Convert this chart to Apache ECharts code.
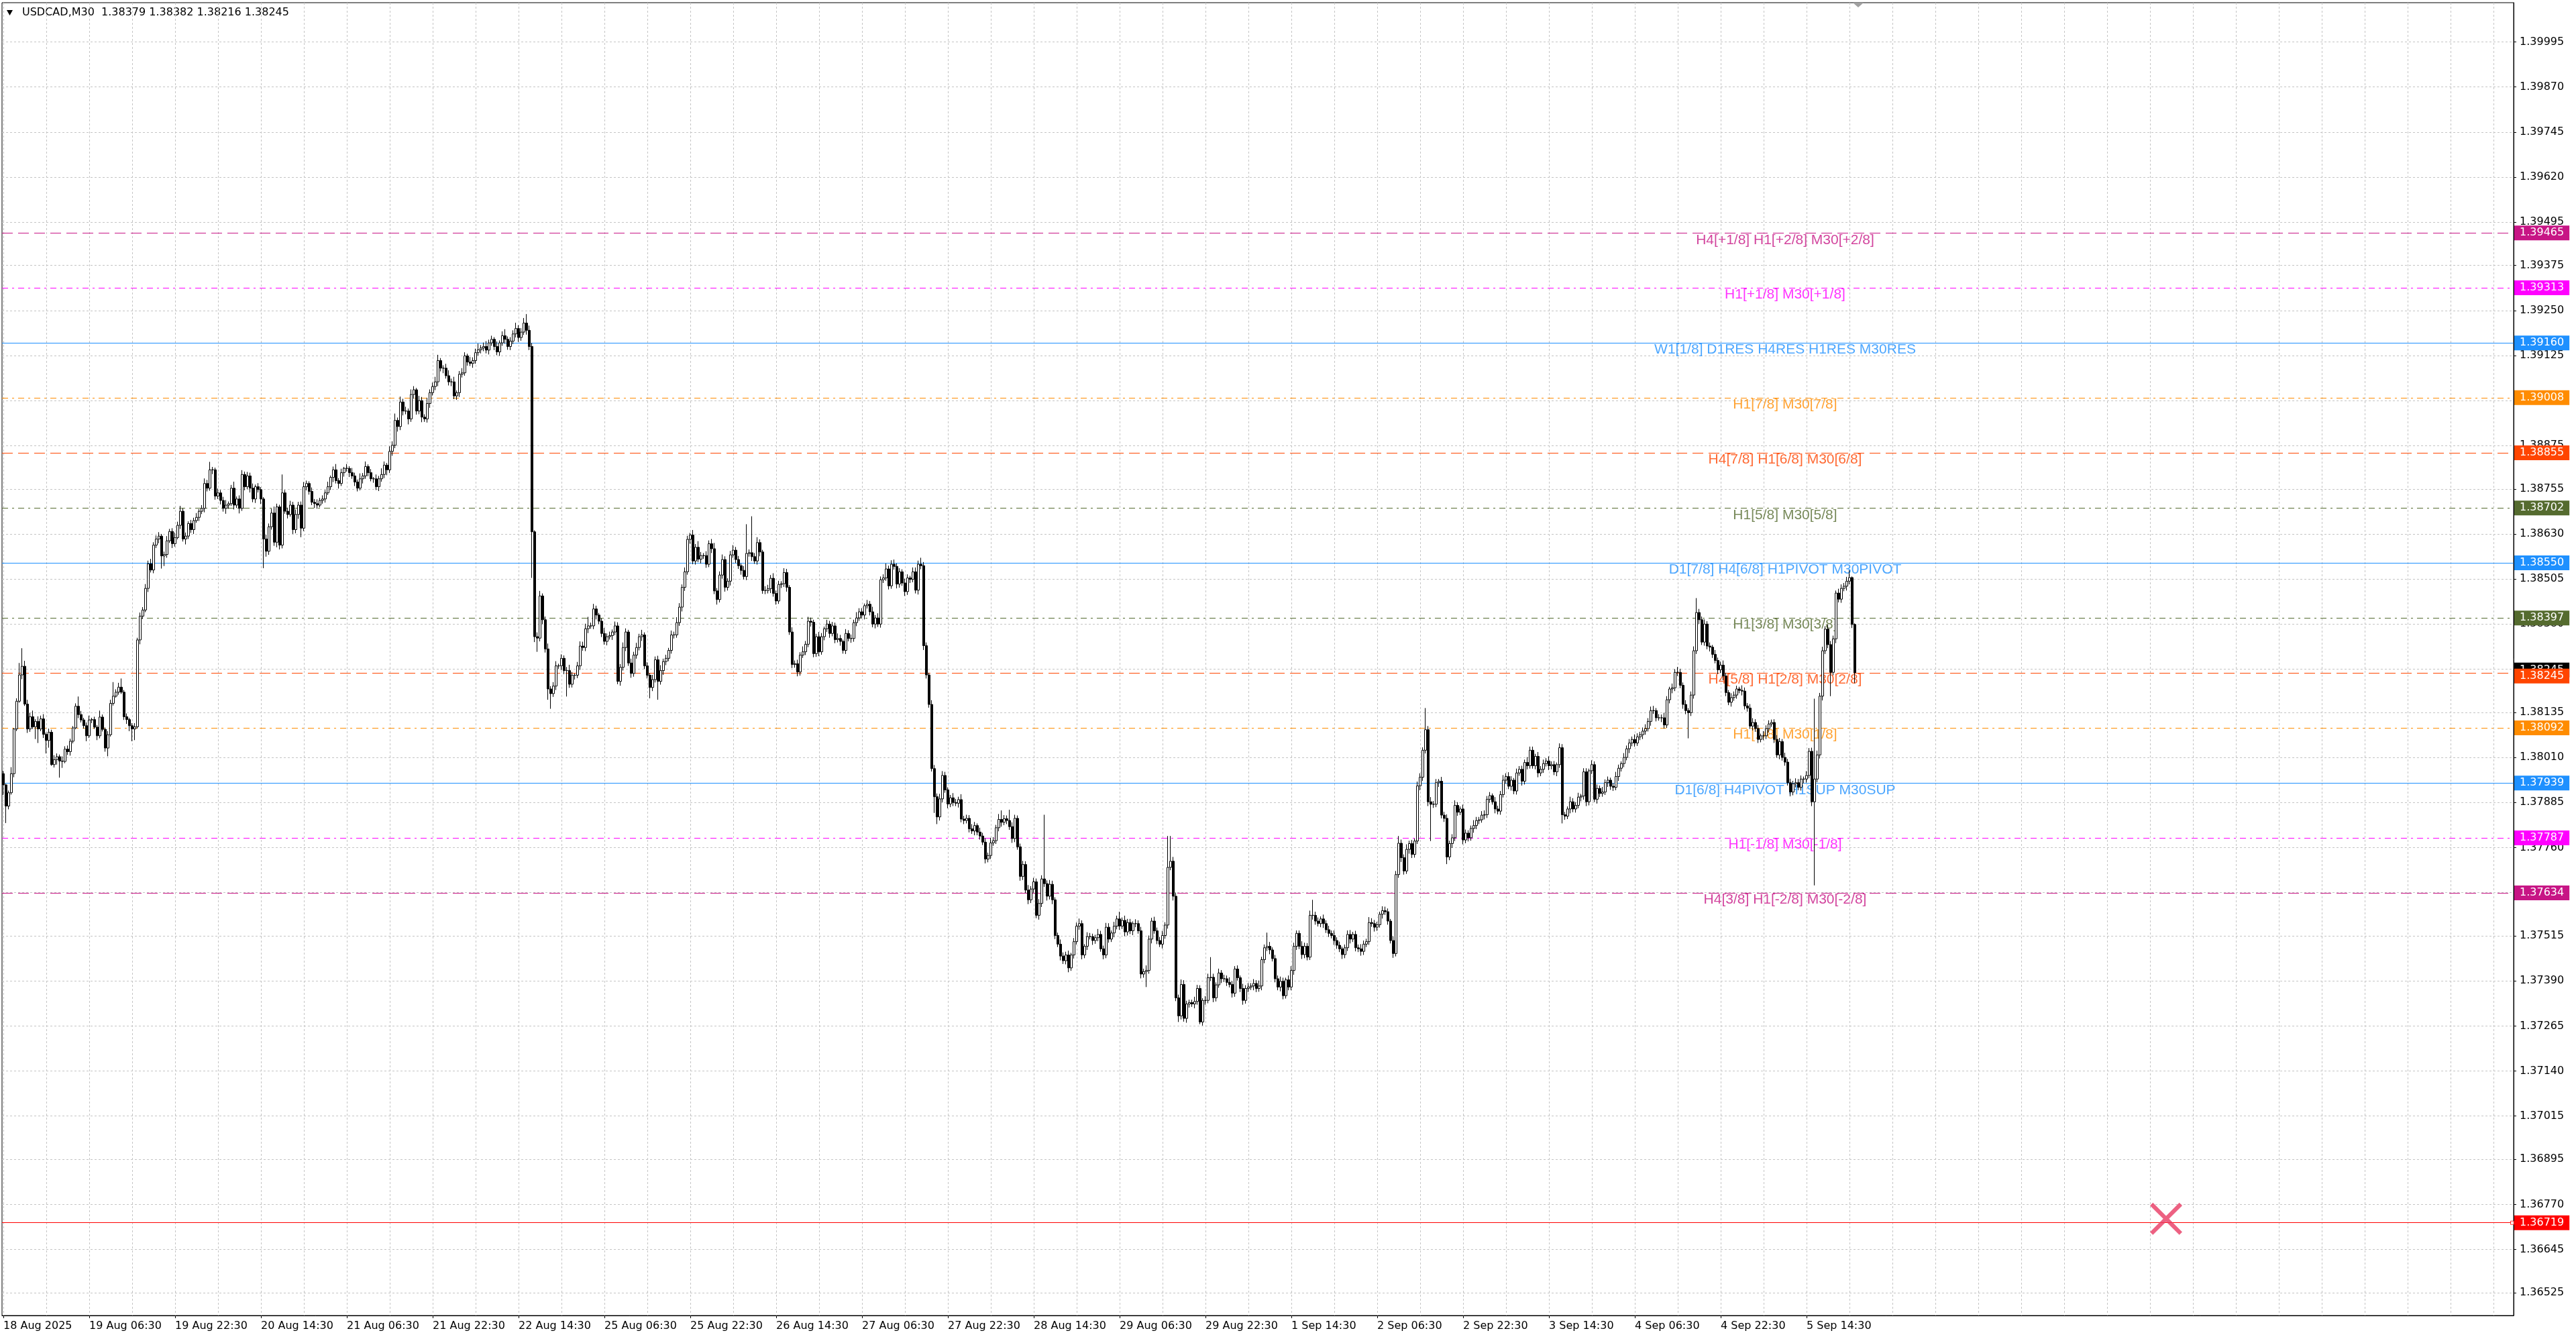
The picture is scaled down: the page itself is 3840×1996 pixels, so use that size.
<!DOCTYPE html>
<html>
<head>
<meta charset="utf-8">
<script src="https://cdn.jsdelivr.net/npm/echarts@6/dist/echarts.min.js"></script>
<style>
html,body{margin:0;padding:0;background:#ffffff;}
#c{width:3840px;height:1996px;}
</style>
</head>
<body>
<div id="c"></div>
<script>
// ---------------- data ----------------
const symbolName = 'USDCAD,M30';
const timeLabels = ['18 Aug 2025','19 Aug 06:30','19 Aug 22:30','20 Aug 14:30','21 Aug 06:30','21 Aug 22:30','22 Aug 14:30','25 Aug 06:30','25 Aug 22:30','26 Aug 14:30','27 Aug 06:30','27 Aug 22:30','28 Aug 14:30','29 Aug 06:30','29 Aug 22:30','1 Sep 14:30','2 Sep 06:30','2 Sep 22:30','3 Sep 14:30','4 Sep 06:30','4 Sep 22:30','5 Sep 14:30'];
const barsPerTimeLabel = 32;
const slotCount = 936;

// prices in points (price x 100000)
const opens = [
137965,137934,137875,137912,137965,138089,138166,138239,138263,138158,
138089,138123,138095,138110,138089,138117,138074,138057,138080,137990,
138004,138012,138000,137999,138033,138026,138055,138092,138152,138129,
138114,138098,138070,138114,138115,138094,138070,138122,138088,138036,
138073,138160,138180,138191,138205,138191,138123,138115,138098,138089,
138095,138336,138402,138419,138479,138547,138530,138599,138616,138624,
138569,138573,138611,138637,138603,138620,138654,138693,138616,138624,
138659,138642,138667,138676,138693,138701,138770,138757,138808,138808,
138735,138744,138723,138701,138710,138714,138757,138710,138727,138701,
138795,138761,138791,138757,138727,138761,138753,138727,138616,138582,
138650,138688,138607,138705,138599,138744,138693,138684,138710,138642,
138684,138710,138646,138761,138770,138748,138718,138714,138710,138723,
138727,138744,138761,138787,138808,138778,138770,138800,138812,138812,
138800,138791,138774,138757,138783,138791,138817,138800,138783,138783,
138761,138783,138795,138821,138808,138859,138876,138945,138928,138996,
138971,138971,138949,139017,139030,138971,139000,138954,138949,138992,
139022,139039,139052,139111,139090,139090,139069,139052,139052,139013,
139022,139073,139077,139124,139107,139103,139111,139133,139141,139146,
139150,139140,139160,139170,139150,139135,139160,139180,139170,139150,
139165,139185,139200,139175,139190,139215,139195,139150,138636,138345,
138341,138458,138392,138311,138200,138187,138208,138264,138264,138285,
138251,138251,138213,138238,138238,138264,138319,138315,138367,138375,
138375,138422,138405,138388,138354,138332,138345,138348,138358,138375,
138221,138260,138315,138358,138272,138243,138294,138315,138345,138350,
138264,138238,138204,138226,138281,138221,138251,138276,138285,138307,
138350,138350,138384,138427,138482,138525,138615,138627,138555,138593,
138560,138570,138570,138546,138603,138589,138472,138448,138516,138559,
138482,138499,138572,138585,138559,138542,138529,138512,138576,138578,
138567,138555,138606,138580,138473,138473,138478,138507,138465,138444,
138490,138492,138523,138482,138358,138268,138270,138247,138294,138303,
138324,138388,138385,138298,138345,138303,138345,138367,138380,138354,
138375,138337,138340,138332,138307,138354,138340,138340,138384,138397,
138414,138405,138431,138435,138414,138380,138397,138380,138503,138508,
138533,138486,138546,138540,138491,138525,138494,138470,138508,138504,
138525,138474,138546,138542,138320,138239,138157,137979,137901,137845,
137895,137960,137920,137881,137898,137885,137883,137893,137839,137835,
137841,137812,137806,137821,137803,137792,137775,137728,137738,137773,
137779,137815,137838,137830,137840,137835,137818,137785,137841,137762,
137680,137713,137642,137615,137645,137665,137572,137605,137673,137660,
137625,137658,137615,137516,137492,137459,137446,137462,137426,137462,
137499,137542,137549,137462,137486,137513,137513,137502,137510,137519,
137479,137462,137539,137506,137523,137542,137562,137542,137558,137526,
137552,137529,137549,137549,137529,137409,137416,137419,137506,137556,
137529,137502,137492,137516,137545,137705,137722,137625,137343,137293,
137380,137286,137326,137330,137326,137333,137369,137276,137336,137336,
137399,137400,137343,137379,137412,137396,137396,137386,137380,137356,
137423,137399,137369,137336,137369,137373,137376,137383,137369,137376,
137449,137482,137486,137476,137452,137396,137373,137389,137349,137393,
137373,137419,137486,137522,137486,137463,137486,137456,137572,137572,
137556,137549,137562,137549,137532,137522,137516,137502,137489,137479,
137463,137482,137519,137506,137519,137482,137479,137472,137492,137499,
137552,137549,137539,137546,137575,137585,137582,137556,137502,137466,
137685,137772,137732,137695,137755,137771,137741,137778,137931,137955,
138030,138087,137887,137880,137880,137940,137944,137850,137841,137734,
137771,137787,137877,137858,137867,137781,137800,137787,137813,137821,
137835,137837,137850,137851,137894,137904,137887,137867,137861,137907,
137947,137957,137930,137947,137917,137967,137977,137944,137996,137987,
138030,137987,138013,137967,137977,137993,138000,137987,137990,137970,
137990,138037,137851,137847,137867,137887,137867,137877,137900,137903,
137970,137887,137973,137990,137894,137924,137910,137914,137940,137947,
137930,137927,137957,137980,137993,138010,138034,138050,138060,138050,
138067,138073,138083,138090,138110,138140,138140,138120,138120,138120,
138100,138170,138200,138203,138246,138246,138210,138157,138140,138134,
138183,138306,138412,138392,138330,138380,138319,138316,138296,138279,
138253,138266,138236,138190,138163,138176,138183,138200,138196,138194,
138153,138147,138097,138107,138090,138060,138070,138070,138090,138103,
138107,138060,138017,138054,138010,137997,137940,137914,137937,137940,
137927,137950,137950,137960,138027,137887,137950,138017,138180,138306,
138366,138323,138246,138339,138466,138449,138479,138485,138499,138509,
138379
];
const closes = [
137934,137875,137912,137965,138089,138166,138239,138263,138158,138089,
138123,138095,138110,138089,138117,138074,138057,138080,137990,138004,
138012,138000,137999,138033,138026,138055,138092,138152,138129,138114,
138098,138070,138114,138115,138094,138070,138122,138088,138036,138073,
138160,138180,138191,138205,138191,138123,138115,138098,138089,138095,
138336,138402,138419,138479,138547,138530,138599,138616,138624,138569,
138573,138611,138637,138603,138620,138654,138693,138616,138624,138659,
138642,138667,138676,138693,138701,138770,138757,138808,138808,138735,
138744,138723,138701,138710,138714,138757,138710,138727,138701,138795,
138761,138791,138757,138727,138761,138753,138727,138616,138582,138650,
138688,138607,138705,138599,138744,138693,138684,138710,138642,138684,
138710,138646,138761,138770,138748,138718,138714,138710,138723,138727,
138744,138761,138787,138808,138778,138770,138800,138812,138812,138800,
138791,138774,138757,138783,138791,138817,138800,138783,138783,138761,
138783,138795,138821,138808,138859,138876,138945,138928,138996,138971,
138971,138949,139017,139030,138971,139000,138954,138949,138992,139022,
139039,139052,139111,139090,139090,139069,139052,139052,139013,139022,
139073,139077,139124,139107,139103,139111,139133,139141,139146,139150,
139140,139160,139170,139150,139135,139160,139180,139170,139150,139165,
139185,139200,139175,139190,139215,139195,139150,138636,138345,138341,
138458,138392,138311,138200,138187,138208,138264,138264,138285,138251,
138251,138213,138238,138238,138264,138319,138315,138367,138375,138375,
138422,138405,138388,138354,138332,138345,138348,138358,138375,138221,
138260,138315,138358,138272,138243,138294,138315,138345,138350,138264,
138238,138204,138226,138281,138221,138251,138276,138285,138307,138350,
138350,138384,138427,138482,138525,138615,138627,138555,138593,138560,
138570,138570,138546,138603,138589,138472,138448,138516,138559,138482,
138499,138572,138585,138559,138542,138529,138512,138576,138578,138567,
138555,138606,138580,138473,138473,138478,138507,138465,138444,138490,
138492,138523,138482,138358,138268,138270,138247,138294,138303,138324,
138388,138385,138298,138345,138303,138345,138367,138380,138354,138375,
138337,138340,138332,138307,138354,138340,138340,138384,138397,138414,
138405,138431,138435,138414,138380,138397,138380,138503,138508,138533,
138486,138546,138540,138491,138525,138494,138470,138508,138504,138525,
138474,138546,138542,138320,138239,138157,137979,137901,137845,137895,
137960,137920,137881,137898,137885,137883,137893,137839,137835,137841,
137812,137806,137821,137803,137792,137775,137728,137738,137773,137779,
137815,137838,137830,137840,137835,137818,137785,137841,137762,137680,
137713,137642,137615,137645,137665,137572,137605,137673,137660,137625,
137658,137615,137516,137492,137459,137446,137462,137426,137462,137499,
137542,137549,137462,137486,137513,137513,137502,137510,137519,137479,
137462,137539,137506,137523,137542,137562,137542,137558,137526,137552,
137529,137549,137549,137529,137409,137416,137419,137506,137556,137529,
137502,137492,137516,137545,137705,137722,137625,137343,137293,137380,
137286,137326,137330,137326,137333,137369,137276,137336,137336,137399,
137400,137343,137379,137412,137396,137396,137386,137380,137356,137423,
137399,137369,137336,137369,137373,137376,137383,137369,137376,137449,
137482,137486,137476,137452,137396,137373,137389,137349,137393,137373,
137419,137486,137522,137486,137463,137486,137456,137572,137572,137556,
137549,137562,137549,137532,137522,137516,137502,137489,137479,137463,
137482,137519,137506,137519,137482,137479,137472,137492,137499,137552,
137549,137539,137546,137575,137585,137582,137556,137502,137466,137685,
137772,137732,137695,137755,137771,137741,137778,137931,137955,138030,
138087,137887,137880,137880,137940,137944,137850,137841,137734,137771,
137787,137877,137858,137867,137781,137800,137787,137813,137821,137835,
137837,137850,137851,137894,137904,137887,137867,137861,137907,137947,
137957,137930,137947,137917,137967,137977,137944,137996,137987,138030,
137987,138013,137967,137977,137993,138000,137987,137990,137970,137990,
138037,137851,137847,137867,137887,137867,137877,137900,137903,137970,
137887,137973,137990,137894,137924,137910,137914,137940,137947,137930,
137927,137957,137980,137993,138010,138034,138050,138060,138050,138067,
138073,138083,138090,138110,138140,138140,138120,138120,138120,138100,
138170,138200,138203,138246,138246,138210,138157,138140,138134,138183,
138306,138412,138392,138330,138380,138319,138316,138296,138279,138253,
138266,138236,138190,138163,138176,138183,138200,138196,138194,138153,
138147,138097,138107,138090,138060,138070,138070,138090,138103,138107,
138060,138017,138054,138010,137997,137940,137914,137937,137940,137927,
137950,137950,137960,138027,137887,137950,138017,138180,138306,138366,
138323,138246,138339,138466,138449,138479,138485,138499,138509,138379,
138245
];
// upper / lower shadow length of every candle, in points
const wickUp = [
8,3,6,18,2,8,33,50,15,12, 11,17,6,14,9,13,5,10,7,12, 9,6,13,8,10,7,5,8,27,10, 6,9,12,5,8,6,18,7,5,10,
10,39,8,12,24,6,9,5,7,10, 6,10,8,12,9,14,8,10,11,6, 8,13,7,9,14,10,15,8,10,6, 10,8,12,6,9,14,10,22,8,6,
12,8,10,14,6,9,18,7,10,12, 8,11,9,13,6,10,7,5,12,9, 12,18,9,6,51,8,10,12,9,14, 9,10,13,8,6,11,9,12,7,10,
8,14,5,9,16,7,11,4,12,6, 13,9,7,15,8,14,6,10,5,12, 8,17,10,6,14,11,19,8,15,9, 12,7,14,10,5,13,10,8,16,9,
11,14,16,7,8,12,15,9,14,6, 9,13,10,6,14,9,11,17,8,11, 15,9,10,6,14,7,12,18,8,11, 10,16,9,11,14,25,13,10,4,12,
14,7,9,15,8,11,13,6,11,8, 10,16,9,5,11,13,12,14,25,9, 14,9,6,8,15,9,11,7,12,10, 9,14,10,6,12,9,13,8,14,7,
10,6,13,9,11,15,8,10,7,12, 9,15,11,8,12,10,6,14,9,17, 10,7,12,9,13,16,8,10,14,9, 8,11,14,9,10,6,12,81,9,101,
10,15,9,6,12,11,9,14,8,10, 7,12,10,6,13,9,11,8,15,9, 12,10,7,8,13,10,6,12,9,11, 9,14,10,5,12,9,11,8,16,10,
10,6,12,9,14,8,13,9,10,15, 9,11,13,8,10,7,12,10,6,12, 12,10,18,10,9,6,12,10,9,14, 12,10,7,8,13,10,8,15,9,10,
9,13,10,6,12,9,11,8,14,10, 8,15,25,10,9,30,12,10,8,9, 10,9,14,8,11,9,12,10,178,9, 12,10,7,8,13,10,9,12,6,10,
10,14,9,6,12,10,8,8,15,10, 9,12,11,7,12,9,20,8,13,10, 10,6,12,9,11,8,14,10,9,12, 9,10,13,8,87,70,12,10,9,14,
12,9,8,8,13,10,9,6,12,11, 56,10,7,12,8,11,9,14,10,8, 10,6,13,9,11,8,12,9,15,8, 9,38,12,7,10,9,13,10,6,12,
12,10,8,8,14,10,9,13,43,10, 10,7,12,9,11,8,14,9,10,6, 9,11,12,7,10,9,13,10,8,15, 12,10,8,7,12,11,9,6,12,10,
20,10,9,14,8,10,7,12,11,8, 60,10,13,9,10,6,12,9,11,8, 10,14,9,7,12,10,8,8,15,10, 8,11,12,9,10,6,13,9,10,14,
9,12,11,6,12,9,10,8,15,10, 10,7,12,9,11,8,13,9,10,6, 12,10,8,7,14,10,9,12,6,10, 10,6,12,9,11,8,14,9,10,7,
9,13,10,6,12,9,11,8,14,10, 8,10,12,9,11,13,7,10,9,14, 10,6,12,9,15,10,8,12,7,10, 12,40,10,9,13,8,10,6,12,8,
10,13,9,7,12,10,9,6,14,10, 8,11,12,9,10,6,13,9,10,8, 9,12,10,7,13,9,11,8,12,10, 10,7,12,9,10,223,12,9,11,8,
12,10,9,7,12,11,9,12,20,3, 3
];
const wickDown = [
28,47,9,5,10,6,4,12,5,11, 8,6,34,39,6,10,36,20,3,8, 14,46,18,5,9,11,6,4,10,7, 8,15,6,9,5,12,7,6,10,23,
5,6,4,7,5,9,12,15,34,31, 5,12,8,6,10,7,9,8,12,35, 28,9,6,12,8,5,10,7,15,8, 9,12,6,10,8,11,9,7,12,10,
8,11,9,15,10,6,12,8,14,7, 10,7,12,9,11,8,14,81,15,10, 8,10,14,12,9,7,11,6,12,10, 12,25,8,10,9,8,12,10,6,9,
10,6,9,13,8,14,7,11,9,12, 8,11,9,6,13,8,10,7,11,9, 12,8,10,15,9,12,8,14,10,12, 9,15,8,12,10,9,14,8,10,12,
8,10,12,9,14,8,10,12,9,11, 12,9,8,10,7,12,9,8,10,9, 9,12,8,10,9,11,8,12,9,10, 8,10,12,9,8,12,10,128,15,38,
9,12,10,30,42,9,11,8,12,10, 72,10,9,12,8,11,9,10,12,8, 9,12,8,10,9,11,8,12,9,8, 12,9,10,8,12,9,10,8,12,9,
9,30,10,8,51,9,12,10,8,9, 10,8,9,12,10,8,12,9,10,8, 12,9,10,8,12,9,14,8,10,12, 9,12,8,10,9,12,8,10,9,12,
8,10,12,9,10,8,12,9,10,8, 10,9,12,8,10,9,12,10,8,9, 8,12,10,9,12,8,10,9,12,8, 10,8,12,9,10,8,12,9,10,8,
9,12,8,10,9,12,8,10,9,8, 10,8,9,12,10,8,12,9,10,8, 9,12,10,12,10,9,8,45,20,10, 10,8,12,9,10,8,12,9,10,8,
10,8,12,9,10,8,12,9,10,8, 9,10,12,8,10,9,12,10,8,12, 10,8,12,9,10,8,12,10,9,12, 9,12,10,8,12,9,10,12,8,10,
8,10,12,9,10,8,12,9,10,8, 12,9,10,8,12,9,10,8,12,10, 9,12,10,8,12,10,43,9,12,8, 10,8,12,9,10,8,12,9,17,10,
9,12,10,8,12,9,6,10,12,8, 9,12,10,8,12,9,10,8,12,10, 8,10,12,9,10,8,12,10,9,12, 10,9,12,8,10,9,12,10,8,9,
9,12,10,8,12,10,9,8,12,10, 8,10,12,9,10,8,12,10,9,12, 10,9,12,8,10,9,12,10,8,9, 9,12,10,8,12,9,10,8,12,8,
9,12,10,8,12,10,9,8,12,10, 9,12,102,10,8,12,9,10,20,9, 12,9,10,8,12,9,10,8,12,10, 10,8,12,9,10,8,12,9,10,8,
10,8,12,9,10,8,12,9,10,8, 8,10,12,9,10,8,12,10,9,12, 9,24,10,8,12,9,10,8,12,10, 12,10,9,8,12,10,9,8,12,10,
10,8,12,9,10,8,12,9,10,8, 9,12,10,8,12,9,10,8,12,10, 8,10,12,9,10,8,12,10,71,9, 10,9,12,8,10,9,12,10,8,12,
9,12,10,8,12,9,10,8,12,10, 10,8,12,9,10,8,12,9,10,8, 10,8,12,9,10,8,12,9,10,8, 9,12,10,8,12,232,9,10,12,9,
10,66,8,12,9,10,8,12,9,10, 29
];

const priceTicks = [1.36525,1.36645,1.36770,1.36895,1.37015,1.37140,1.37265,1.37390,1.37515,1.37635,1.37760,1.37885,1.38010,1.38135,1.38255,1.38380,1.38505,1.38630,1.38755,1.38875,1.39000,1.39125,1.39250,1.39375,1.39495,1.39620,1.39745,1.39870,1.39995];

const levelValues = [1.39465,1.39313,1.39160,1.39008,1.38855,1.38702,1.38550,1.38397,1.38245,1.38092,1.37939,1.37787,1.37634];
const levelNames = ['H4[+1/8] H1[+2/8] M30[+2/8]','H1[+1/8] M30[+1/8]','W1[1/8] D1RES H4RES H1RES M30RES','H1[7/8] M30[7/8]','H4[7/8] H1[6/8] M30[6/8]','H1[5/8] M30[5/8]','D1[7/8] H4[6/8] H1PIVOT M30PIVOT','H1[3/8] M30[3/8]','H4[5/8] H1[2/8] M30[2/8]','H1[1/8] M30[1/8]','D1[6/8] H4PIVOT H1SUP M30SUP','H1[-1/8] M30[-1/8]','H4[3/8] H1[-2/8] M30[-2/8]'];
const levelColors = ['#C71585','#FF00FF','#1E90FF','#FF8C00','#FF4500','#556B2F','#1E90FF','#556B2F','#FF4500','#FF8C00','#1E90FF','#FF00FF','#C71585'];
const levelStyles = ['dash','dashdot','solid','dashdot','dash','dashdot','solid','dashdot','dash','dashdot','solid','dashdot','dash'];

const stopValue = 1.36719;
const markerSlot = 806;
const markerValue = 1.36730;

// ---------------- chart ----------------
const AXIS_FONT = 'DejaVu Sans';
const TEXT_FONT = 'Liberation Sans';
const dashMap = { solid: 'solid', dash: [16, 8], dashdot: [9, 6, 3, 6] };
const labelSlot = 664;
const lineEndSlot = slotCount - 1;

const categories = [];
for (let i = 0; i < slotCount; i++) categories.push(String(i));

const candleData = closes.map(function (c, i) {
  const o = opens[i];
  const hi = Math.max(o, c) + wickUp[i];
  const lo = Math.min(o, c) - wickDown[i];
  return [o / 1e5, c / 1e5, lo / 1e5, hi / 1e5];
});
const last = candleData[candleData.length - 1];
const headerText = symbolName + '  ' + last[0].toFixed(5) + ' ' + last[3].toFixed(5) + ' ' + last[2].toFixed(5) + ' ' + last[1].toFixed(5);

const boxLabel = function (text, bg, offsetY) {
  return {
    show: true, position: 'end', distance: 1, formatter: text,
    color: '#ffffff', backgroundColor: bg, padding: [3, 8, 3, 8],
    fontFamily: AXIS_FONT, fontSize: 16, offset: [0, offsetY || 0]
  };
};

const levelLines = levelValues.map(function (v, k) {
  return {
    yAxis: v,
    lineStyle: { color: levelColors[k], type: dashMap[levelStyles[k]], width: 1 },
    label: boxLabel(v.toFixed(5), levelColors[k], levelValues[k] === last[1] ? 5 : 0)
  };
});
// bid price box (mostly hidden behind the level box)
levelLines.unshift({
  yAxis: last[1],
  lineStyle: { color: 'rgba(0,0,0,0)', width: 0 },
  label: boxLabel(last[1].toFixed(5), '#000000', -4)
});
levelLines.push({
  yAxis: stopValue,
  lineStyle: { color: '#FF0000', type: 'solid', width: 1 },
  label: boxLabel(stopValue.toFixed(5), '#FF0000', 0)
});

const nameData = levelValues.map(function (v, k) {
  return {
    value: [labelSlot, v],
    label: { formatter: levelNames[k], color: levelColors[k] }
  };
});

const chart = echarts.init(document.getElementById('c'), null, { renderer: 'canvas', width: 3840, height: 1996 });
chart.setOption({
  animation: false,
  backgroundColor: '#ffffff',
  grid: { left: 3, right: 93, top: 4, bottom: 35, show: true, borderColor: '#000000', borderWidth: 1, backgroundColor: '#ffffff' },
  xAxis: {
    type: 'category', data: categories, boundaryGap: true,
    axisLine: { show: true, lineStyle: { color: '#000000', width: 1 } },
    axisTick: {
      show: true, alignWithLabel: true, length: 4, lineStyle: { color: '#000000' },
      interval: function (i) { return i % barsPerTimeLabel === 0 && i / barsPerTimeLabel < timeLabels.length; }
    },
    axisLabel: {
      show: true, align: 'left', margin: 8, color: '#000000', fontFamily: AXIS_FONT, fontSize: 16,
      interval: function (i) { return i % barsPerTimeLabel === 0 && i / barsPerTimeLabel < timeLabels.length; },
      formatter: function (val, i) { return timeLabels[i / barsPerTimeLabel] || ''; }
    },
    splitLine: {
      show: true, alignWithLabel: true,
      interval: function (i) { return i % (barsPerTimeLabel / 2) === 0; },
      lineStyle: { color: '#c4c4c4', type: [3, 3], width: 1 }
    }
  },
  yAxis: {
    type: 'value', position: 'right', scale: true,
    min: 1.364617, max: 1.401039,
    axisLine: { show: true, lineStyle: { color: '#000000', width: 1 } },
    axisTick: { show: true, length: 4, customValues: priceTicks, lineStyle: { color: '#000000' } },
    axisLabel: {
      show: true, customValues: priceTicks, margin: 9, color: '#000000', fontFamily: AXIS_FONT, fontSize: 16,
      formatter: function (v) { return v.toFixed(5); }
    },
    splitLine: { show: true, lineStyle: { color: '#c4c4c4', type: [3, 3], width: 1 } }
  },
  series: [
    {
      type: 'line', data: [], z: 3, silent: true,
      markLine: { silent: true, symbol: 'none', precision: 5, animation: false, data: levelLines }
    },
    {
      type: 'scatter', data: nameData, z: 4, silent: true,
      symbolSize: 0, itemStyle: { color: 'rgba(0,0,0,0)' },
      label: { show: true, position: 'bottom', distance: 0, fontFamily: TEXT_FONT, fontSize: 21 }
    },
    {
      type: 'candlestick', data: candleData, z: 6, large: false, barWidth: 3, silent: true,
      itemStyle: { color: '#ffffff', color0: '#000000', borderColor: '#000000', borderColor0: '#000000', borderColorDoji: '#000000', borderWidth: 1 }
    },
    {
      type: 'scatter', data: [[lineEndSlot, stopValue]], z: 5, silent: true,
      symbol: 'rect', symbolSize: 5,
      itemStyle: { color: '#ffffff', borderColor: '#FF0000', borderWidth: 1 }
    },
    {
      type: 'scatter', data: [[markerSlot, markerValue]], z: 7, silent: true,
      symbol: 'path://M1.8,0 L10,8.2 L18.2,0 L20,1.8 L11.8,10 L20,18.2 L18.2,20 L10,11.8 L1.8,20 L0,18.2 L8.2,10 L0,1.8 Z',
      symbolSize: 48, itemStyle: { color: '#E83A63' }
    }
  ],
  graphic: [
    { type: 'polygon', shape: { points: [[10, 15], [19, 15], [14.5, 23]] }, style: { fill: '#000000' } },
    { type: 'text', left: 33, top: 11, style: { text: headerText, font: '16px "DejaVu Sans"', fill: '#000000' } },
    { type: 'polygon', shape: { points: [[2762, 4], [2778, 4], [2770, 11]] }, style: { fill: '#a0a0a0' } }
  ]
});
</script>
</body>
</html>
